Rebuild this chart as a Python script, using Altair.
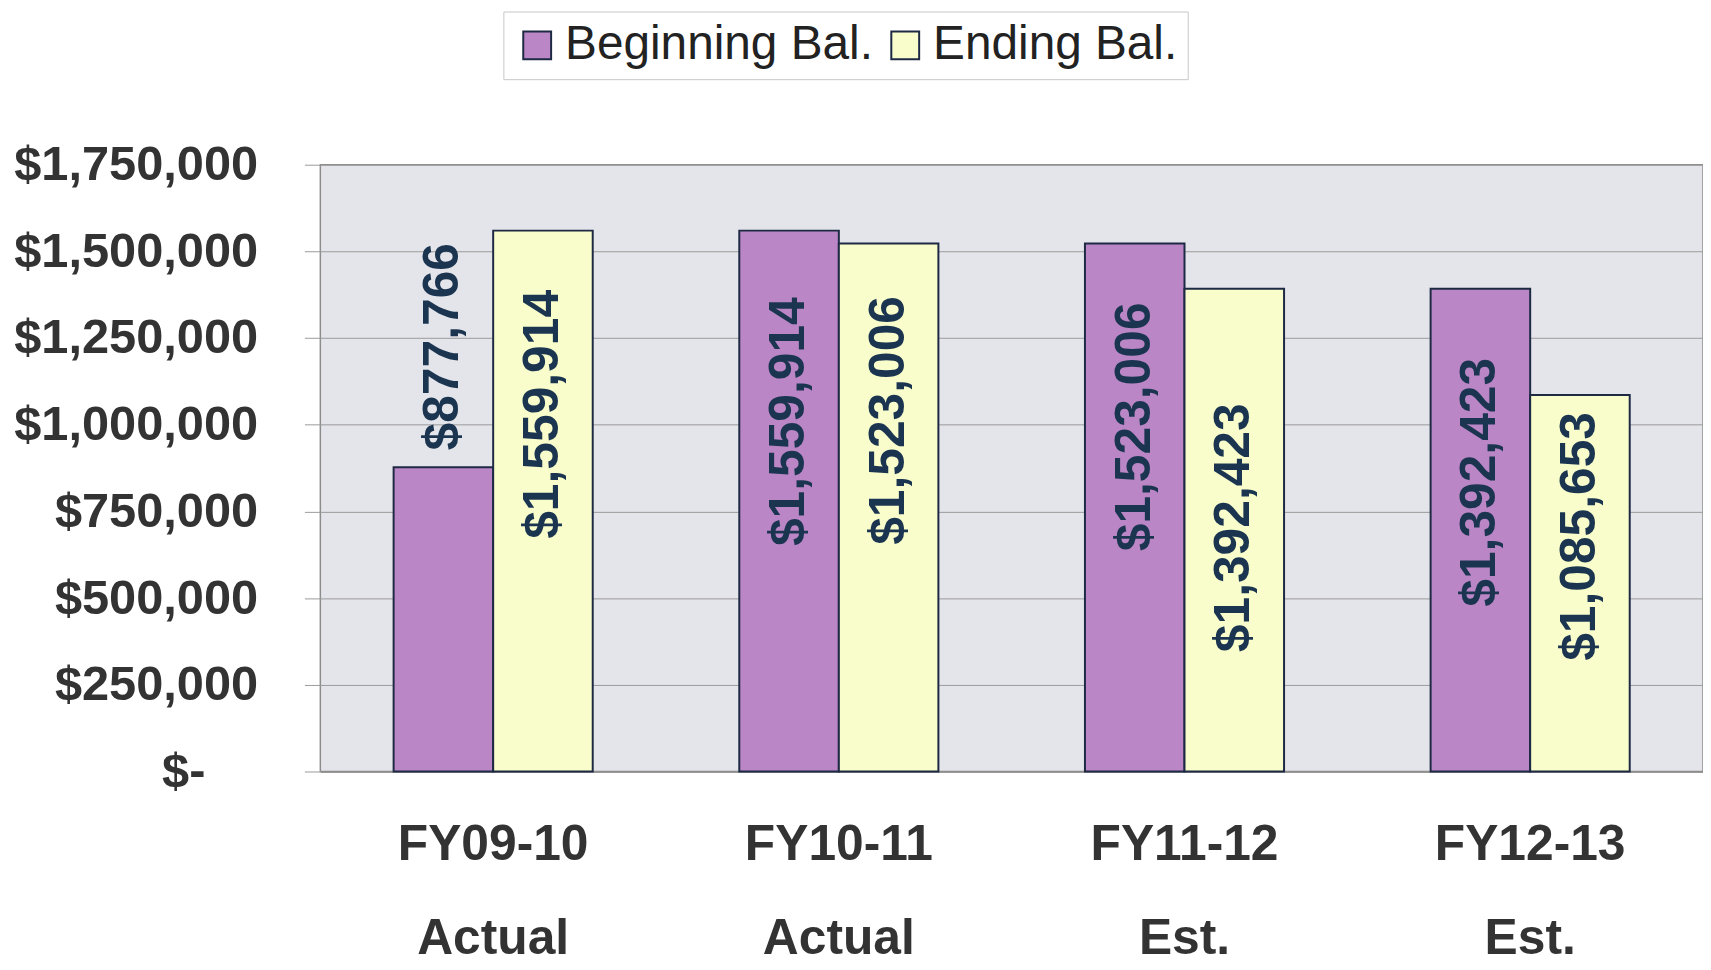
import altair as alt
import pandas as pd

years = ["FY09-10", "FY10-11", "FY11-12", "FY12-13"]
status = ["Actual", "Actual", "Est.", "Est."]
series = ["Beginning Bal.", "Ending Bal."]
beginning = [877766, 1559914, 1523006, 1392423]
ending = [1559914, 1523006, 1392423, 1085653]
# centre of each value label along the value axis (data units)
label_mid_beginning = [1225000, 1009000, 994000, 834000]
label_mid_ending = [1030000, 1012500, 703000, 678000]
y_ticks = [0, 250000, 500000, 750000, 1000000, 1250000, 1500000, 1750000]

rows = []
for i, yr in enumerate(years):
    cat = yr + "\n" + status[i]
    for s, vals, mids in [(series[0], beginning, label_mid_beginning),
                          (series[1], ending, label_mid_ending)]:
        rows.append({"cat": cat, "series": s, "value": vals[i],
                     "mid": mids[i], "txt": "${:,}".format(vals[i])})
df = pd.DataFrame(rows)
cats = [y + "\n" + s for y, s in zip(years, status)]

FONT = "Liberation Sans"

x_enc = alt.X("cat:N", sort=cats,
              scale=alt.Scale(paddingInner=0.424, paddingOuter=0.212),
              axis=alt.Axis(title=None, labelAngle=0, ticks=False, tickSize=0,
                            labelExpr="split(datum.label, '\\n')",
                            labelFont=FONT, labelFontSize=50, labelFontWeight="bold",
                            labelColor="#333333", labelLineHeight=95,
                            labelBaseline="top", labelPadding=48, labelLimit=0,
                            domainColor="#8c8c8c", domainWidth=1.5, grid=False))
xoff = alt.XOffset("series:N", sort=series, scale=alt.Scale(paddingInner=0, paddingOuter=0))

bars = alt.Chart(df).mark_bar(stroke="#1E2A44", strokeWidth=2).encode(
    x=x_enc,
    xOffset=xoff,
    y=alt.Y("value:Q",
            scale=alt.Scale(domain=[0, 1750000], nice=False),
            axis=alt.Axis(title=None, values=y_ticks, domain=False,
                          grid=True, gridColor="#9a9a9a", gridWidth=1,
                          tickColor="#9a9a9a", tickSize=16, tickWidth=1,
                          labelPadding={"condition": {"test": "datum.value == 0", "value": 100},
                                        "value": 47},
                          labelFont=FONT, labelFontSize=49,
                          labelFontWeight="bold", labelColor="#333333", labelLimit=0,
                          labelExpr="datum.value == 0 ? '$-' : '$' + format(datum.value, ',')")),
    color=alt.Color("series:N", sort=series,
                    scale=alt.Scale(domain=series, range=["#BA86C6", "#F8FDCB"]),
                    legend=alt.Legend(title=None, orient="none", legendX=184, legendY=-154,
                                      direction="horizontal", symbolType="square",
                                      symbolSize=784, symbolStrokeColor="#1E2A44",
                                      symbolStrokeWidth=2, labelFont=FONT,
                                      labelFontSize=48, labelColor="#222222",
                                      labelLimit=0,
                                      labelOffset=4, columnPadding=8,
                                      strokeColor="#c8c8c8", fillColor="#ffffff",
                                      padding=10)),
)

labels = alt.Chart(df).mark_text(angle=270, font=FONT, fontSize=50, fontWeight="bold",
                                 color="#1B3550", align="center", baseline="middle").encode(
    x=alt.X("cat:N", sort=cats),
    xOffset=alt.XOffset("series:N", sort=series),
    y=alt.Y("mid:Q"),
    text="txt:N",
)

chart = alt.layer(bars, labels).properties(
    width=1390, height=610,
    padding={"left": 5, "top": 0, "right": 0, "bottom": 0},
    background="#ffffff",
).configure_view(fill="#E4E4EB", stroke="#8c8c8c", strokeWidth=1.5)

chart.save("out.html", embed_options={"renderer": "svg", "actions": False})
